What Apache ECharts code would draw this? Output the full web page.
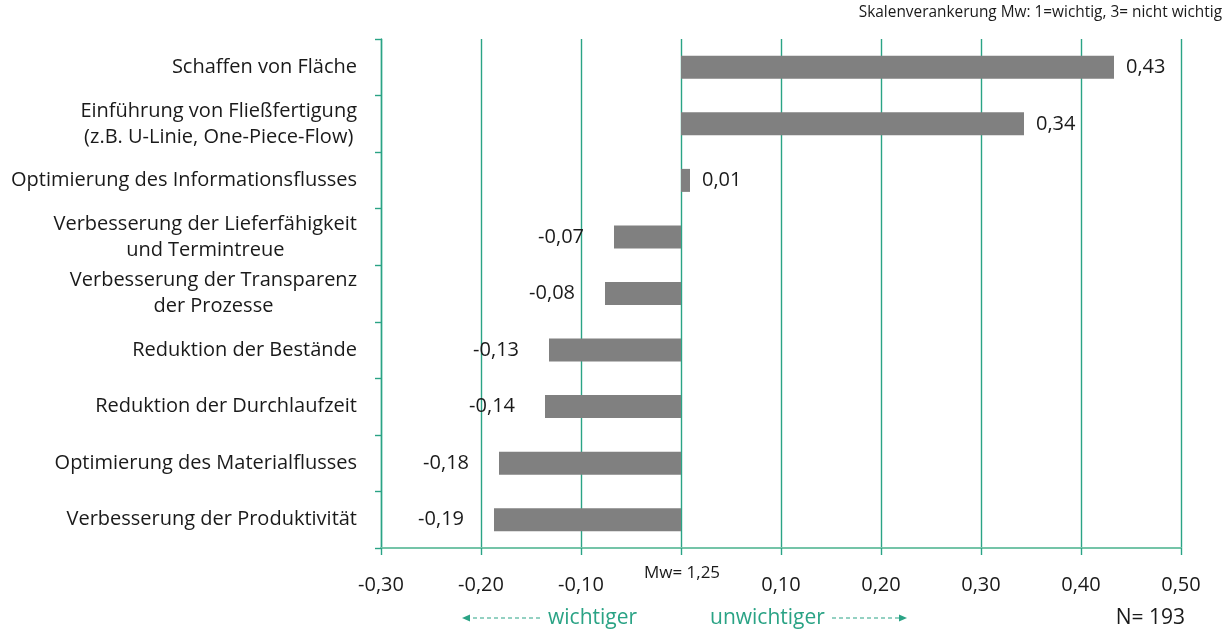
<!DOCTYPE html>
<html>
<head>
<meta charset="utf-8">
<script src="https://cdn.jsdelivr.net/npm/echarts@6/dist/echarts.min.js"></script>
<style>
  html, body { margin: 0; padding: 0; background: #fff; }
  #chart { width: 1232px; height: 630px; }
</style>
</head>
<body>
<div id="chart"></div>
<script>
// Kategorien von oben nach unten
const categories = [
  'Schaffen von Fläche',
  'Einführung von Fließfertigung\n(z.B. U-Linie, One-Piece-Flow)',
  'Optimierung des Informationsflusses',
  'Verbesserung der Lieferfähigkeit\nund Termintreue',
  'Verbesserung der Transparenz\nder Prozesse',
  'Reduktion der Bestände',
  'Reduktion der Durchlaufzeit',
  'Optimierung des Materialflusses',
  'Verbesserung der Produktivität'
]
// Abweichung vom Mittelwert (Mw = 1,25)
const values = [0.433, 0.343, 0.009, -0.067, -0.076, -0.132, -0.136, -0.182, -0.187]
const axisMin = -0.3
const axisMax = 0.5
const axisStep = 0.1

const teal = '#2aa385'
const font = "'Open Sans', 'Noto Sans', sans-serif"
const fmt = v => v.toFixed(2).replace('.', ',')

var chartDom = document.getElementById('chart')
var myChart = echarts.init(chartDom)
var option

option = {
  animation: false,
  textStyle: { fontFamily: font },
  grid: { left: 381, right: 51, top: 39, bottom: 82, containLabel: false },
  xAxis: {
    type: 'value',
    min: axisMin,
    max: axisMax,
    interval: axisStep,
    axisLine: { show: true, lineStyle: { color: '#74c4a8', width: 2 } },
    axisTick: { show: true, length: 7, lineStyle: { color: teal, width: 1.4 } },
    splitLine: { show: true, lineStyle: { color: teal, width: 1.4 } },
    axisLabel: {
      margin: 27,
      fontSize: 20,
      color: '#1a1a1a',
      fontFamily: font,
      formatter: v => Math.abs(v) < 1e-9 ? '' : fmt(v)
    }
  },
  yAxis: {
    type: 'category',
    inverse: true,
    data: categories,
    axisLine: { show: true, onZero: false, lineStyle: { color: teal, width: 1.4 } },
    axisTick: { show: true, length: 6, lineStyle: { color: teal, width: 1.4 } },
    axisLabel: {
      margin: 24,
      fontSize: 20,
      lineHeight: 26,
      color: '#1a1a1a',
      fontFamily: font,
      formatter: v => v.split('\n').map(s => '{c|' + s + '}').join('\n'),
      rich: {
        c: { align: 'center', fontSize: 20, lineHeight: 26, color: '#1a1a1a', fontFamily: font }
      }
    }
  },
  series: [
    {
      type: 'bar',
      barWidth: 23,
      itemStyle: { color: '#808080' },
      label: {
        show: true,
        position: 'outside',
        fontSize: 20,
        color: '#1a1a1a',
        fontFamily: font,
        formatter: p => fmt(p.value)
      },
      data: values.map(v => ({ value: v, label: { distance: v < 0 ? 30 : 12 } }))
    }
  ],
  graphic: [
    {
      type: 'text', right: 10, top: 5,
      style: { text: 'Skalenverankerung Mw: 1=wichtig, 3= nicht wichtig', fontSize: 15.4, fill: '#1a1a1a', fontFamily: font }
    },
    {
      type: 'text', x: 682, y: 573,
      style: { text: 'Mw= 1,25', fontSize: 17, fill: '#1a1a1a', fontFamily: font, align: 'center', verticalAlign: 'middle' }
    },
    {
      type: 'line',
      shape: { x1: 466, y1: 618, x2: 542, y2: 618 },
      style: { stroke: teal, lineWidth: 1.2, lineDash: [4, 3] }
    },
    {
      type: 'polygon',
      shape: { points: [[462, 618], [470, 614.5], [470, 621.5]] },
      style: { fill: teal }
    },
    {
      type: 'text', x: 548, y: 618,
      style: { text: 'wichtiger', fontSize: 21, fill: teal, fontFamily: font, verticalAlign: 'middle' }
    },
    {
      type: 'text', x: 710, y: 618,
      style: { text: 'unwichtiger', fontSize: 21, fill: teal, fontFamily: font, verticalAlign: 'middle' }
    },
    {
      type: 'line',
      shape: { x1: 832, y1: 618, x2: 902, y2: 618 },
      style: { stroke: teal, lineWidth: 1.2, lineDash: [4, 3] }
    },
    {
      type: 'polygon',
      shape: { points: [[907, 618], [899, 614.5], [899, 621.5]] },
      style: { fill: teal }
    },
    {
      type: 'text', right: 47, y: 618,
      style: { text: 'N= 193', fontSize: 21, fill: '#1a1a1a', fontFamily: font, verticalAlign: 'middle' }
    }
  ]
}

option && myChart.setOption(option)
</script>
</body>
</html>
